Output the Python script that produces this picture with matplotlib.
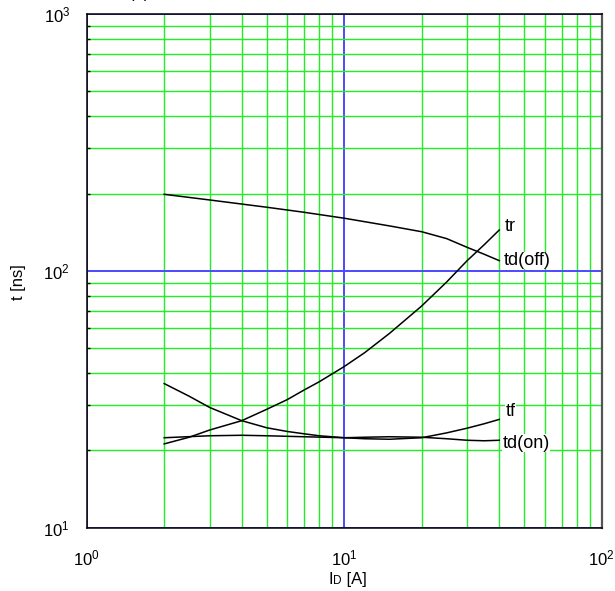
import numpy as np
import matplotlib
matplotlib.use("Agg")
import matplotlib.pyplot as plt
from matplotlib.ticker import LogLocator, FixedLocator, NullFormatter

plt.rcParams['font.family'] = ['Liberation Sans', 'DejaVu Sans']
plt.rcParams['mathtext.fontset'] = 'custom'
plt.rcParams['mathtext.rm'] = 'Liberation Sans'
plt.rcParams['mathtext.it'] = 'Liberation Sans:italic'

# ---- data ----
x_td_off = [2, 3, 4, 5, 7, 10, 15, 20, 25, 30, 35, 40]
td_off = [198.6, 188.8, 182.0, 176.9, 169.0, 160.3, 149.6, 142.0, 133.5, 123.5, 116.0, 109.6]

x_tr = [2, 2.5, 3, 4, 5, 6, 7, 8, 10, 12, 15, 20, 25, 30, 35, 40]
tr = [21.2, 22.5, 24.0, 26.1, 28.9, 31.5, 34.4, 37.0, 42.4, 48.0, 57.1, 73.0, 90.5, 109.5, 126.5, 144.2]

x_tf = [2, 2.5, 3, 4, 5, 6, 7, 8, 10, 12, 15, 20, 25, 30, 35, 40]
tf = [36.4, 32.5, 29.4, 26.1, 24.5, 23.7, 23.2, 22.8, 22.4, 22.2, 22.1, 22.4, 23.4, 24.4, 25.4, 26.4]

x_td_on = [2, 3, 4, 5, 7, 10, 12, 15, 20, 25, 30, 35, 40]
td_on = [22.4, 22.8, 22.9, 22.8, 22.6, 22.4, 22.5, 22.6, 22.5, 22.2, 21.9, 21.8, 21.9]

curve_labels = ["tr", "td(off)", "tf", "td(on)"]
x_ticklabels = [r"$\mathregular{10^{0}}$", r"$\mathregular{10^{1}}$", r"$\mathregular{10^{2}}$"]
y_ticklabels = [r"$\mathregular{10^{1}}$", r"$\mathregular{10^{2}}$", r"$\mathregular{10^{3}}$"]
title_parts = ["(b) VDD = 100 V,", "VGS = 10 V,", "RG = 10 \u03a9,", "Ta = 25 \u00b0C"]

W, H = 615, 591
fig = plt.figure(figsize=(W / 100, H / 100), dpi=100)
ax = fig.add_axes([86.7 / W, (H - 527.7) / H, (601.7 - 86.7) / W, (527.7 - 14) / H])

ax.set_xscale('log')
ax.set_yscale('log')
ax.set_xlim(1, 100)
ax.set_ylim(10, 1000)

# grid
ax.xaxis.set_major_locator(FixedLocator([1, 10, 100]))
ax.yaxis.set_major_locator(FixedLocator([10, 100, 1000]))
ax.xaxis.set_minor_locator(LogLocator(base=10, subs=np.arange(2, 10)))
ax.yaxis.set_minor_locator(LogLocator(base=10, subs=np.arange(2, 10)))
ax.xaxis.set_minor_formatter(NullFormatter())
ax.yaxis.set_minor_formatter(NullFormatter())
ax.grid(which='minor', color='#22ee22', lw=1.0)
ax.grid(which='major', color='#4a4aff', lw=1.4)
ax.set_axisbelow(True)

ax.set_xticklabels(x_ticklabels)
ax.set_yticklabels(y_ticklabels)
ax.tick_params(axis='x', which='both', length=0, pad=15, labelsize=12)
ax.tick_params(axis='y', which='major', length=0, pad=12, labelsize=12)
ax.tick_params(axis='y', which='minor', direction='in', length=2.5, width=1, color='black')

for s in ['left', 'bottom', 'top']:
    ax.spines[s].set_color('black')
    ax.spines[s].set_linewidth(1.1)
ax.spines['right'].set_color('#555555')
ax.spines['right'].set_linewidth(1.6)

# curves
lw = 1.1
ax.plot(x_td_off, td_off, color='black', lw=lw)
ax.plot(x_tr, tr, color='black', lw=lw)
ax.plot(x_tf, tf, color='black', lw=lw)
ax.plot(x_td_on, td_on, color='black', lw=lw)

# curve labels
label_pos = [(42.1, 148.6), (41.8, 109.6), (42.4, 28.3), (41.1, 21.3)]
for txt, (lx, ly) in zip(curve_labels, label_pos):
    ax.text(lx, ly, txt, fontsize=13, ha='left', va='center',
            bbox=dict(facecolor='white', edgecolor='none', pad=0.3))

# axis labels
fig.text(19 / W, 1 - 282 / H, "t [ns]", rotation=90, ha='center', va='center', fontsize=12)
base_y = (H - 584.3) / H
fig.text(328 / W, base_y, "I", fontsize=12, ha='left', va='baseline')
fig.text(333.5 / W, base_y, "D", fontsize=8.5, ha='left', va='baseline')
fig.text(341.5 / W, base_y, " [A]", fontsize=12, ha='left', va='baseline')

# title (cut off at the top edge in the reference, only descenders visible)
comma_x = [255, 388, 481]
title_y = 1 + 2.0 / H
for part, cx in zip(title_parts[:3], comma_x):
    fig.text(cx / W, title_y, part, fontsize=12, ha='right', va='baseline')
fig.text(488 / W, title_y, title_parts[3], fontsize=12, ha='left', va='baseline')

fig.savefig("out.png", dpi=100)
